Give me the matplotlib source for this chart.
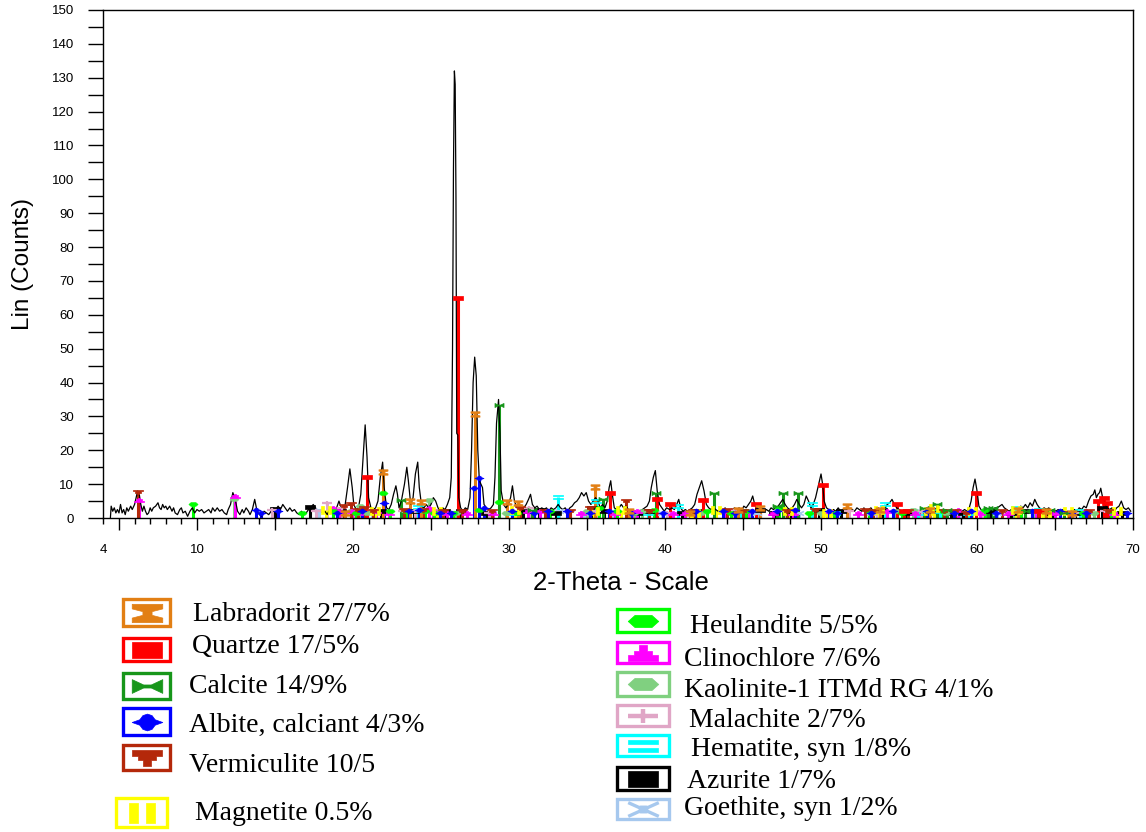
import matplotlib
matplotlib.use('Agg')
import matplotlib.pyplot as plt
from matplotlib.path import Path
from matplotlib.patches import Rectangle

# measured pattern (2-theta in degrees, counts) --------------------------
two_theta = [
    4.45, 4.5, 4.6, 4.7, 4.8, 4.9, 5.0, 5.1, 5.2, 5.3,
    5.4, 5.5, 5.6, 5.75, 5.85, 6.0, 6.1, 6.2, 6.3, 6.4,
    6.5, 6.6, 6.7, 6.8, 6.9, 7.0, 7.1, 7.2, 7.35, 7.5,
    7.6, 7.7, 7.8, 7.9, 8.0, 8.1, 8.25, 8.4, 8.5, 8.6,
    8.75, 8.9, 9.0, 9.1, 9.25, 9.4, 9.55, 9.7, 9.85, 10.0,
    10.15, 10.3, 10.45, 10.6, 10.75, 10.9, 11.0, 11.15, 11.3, 11.45,
    11.6, 11.75, 11.9, 12.0, 12.15, 12.3, 12.45, 12.6, 12.75, 12.9,
    13.0, 13.15, 13.3, 13.4, 13.55, 13.7, 13.85, 14.0, 14.15, 14.3,
    14.45, 14.6, 14.75, 14.9, 15.05, 15.2, 15.35, 15.5, 15.65, 15.8,
    15.95, 16.1, 16.25, 16.4, 16.55, 16.7, 16.85, 17.0, 17.15, 17.3,
    17.45, 17.6, 17.75, 17.9, 18.05, 18.2, 18.35, 18.5, 18.65, 18.8,
    18.95, 19.1, 19.25, 19.4, 19.5, 19.65, 19.8, 19.95, 20.05, 20.2,
    20.35, 20.5, 20.65, 20.78, 20.9, 21.0, 21.15, 21.3, 21.45, 21.6,
    21.75, 21.9, 22.0, 22.15, 22.3, 22.45, 22.6, 22.75, 22.85, 22.95,
    23.1, 23.3, 23.45, 23.55, 23.7, 23.85, 24.0, 24.15, 24.25, 24.4,
    24.55, 24.7, 24.85, 25.0, 25.15, 25.3, 25.45, 25.6, 25.75, 25.9,
    26.05, 26.2, 26.3, 26.38, 26.44, 26.5, 26.55, 26.6, 26.65, 26.72,
    26.78, 26.9, 27.05, 27.2, 27.35, 27.5, 27.6, 27.7, 27.8, 27.9,
    28.0, 28.1, 28.2, 28.3, 28.4, 28.55, 28.7, 28.85, 29.0, 29.1,
    29.2, 29.33, 29.42, 29.5, 29.65, 29.8, 29.95, 30.1, 30.22, 30.35,
    30.5, 30.65, 30.8, 30.95, 31.1, 31.25, 31.38, 31.5, 31.65, 31.8,
    31.95, 32.1, 32.25, 32.4, 32.55, 32.7, 32.85, 33.0, 33.15, 33.3,
    33.45, 33.6, 33.75, 33.9, 34.05, 34.2, 34.35, 34.5, 34.65, 34.8,
    34.95, 35.1, 35.25, 35.4, 35.55, 35.7, 35.85, 36.0, 36.15, 36.3,
    36.42, 36.52, 36.62, 36.75, 36.9, 37.05, 37.2, 37.35, 37.5, 37.65,
    37.8, 37.95, 38.1, 38.25, 38.4, 38.55, 38.7, 38.85, 39.0, 39.12,
    39.25, 39.38, 39.5, 39.65, 39.8, 39.95, 40.1, 40.3, 40.45, 40.6,
    40.75, 40.88, 41.0, 41.15, 41.3, 41.45, 41.6, 41.75, 41.9, 42.05,
    42.2, 42.35, 42.5, 42.65, 42.8, 42.95, 43.1, 43.25, 43.4, 43.55,
    43.7, 43.85, 44.0, 44.15, 44.3, 44.45, 44.6, 44.75, 44.9, 45.05,
    45.2, 45.35, 45.5, 45.62, 45.75, 45.9, 46.05, 46.2, 46.35, 46.5,
    46.65, 46.8, 46.95, 47.1, 47.25, 47.4, 47.55, 47.7, 47.85, 48.0,
    48.15, 48.3, 48.45, 48.6, 48.75, 48.9, 49.05, 49.2, 49.35, 49.5,
    49.65, 49.8, 49.9, 50.0, 50.1, 50.2, 50.35, 50.5, 50.65, 50.8,
    50.95, 51.1, 51.25, 51.4, 51.55, 51.7, 51.85, 52.0, 52.15, 52.3,
    52.45, 52.6, 52.75, 52.9, 53.05, 53.2, 53.35, 53.5, 53.65, 53.8,
    53.95, 54.1, 54.25, 54.4, 54.55, 54.7, 54.85, 55.0, 55.15, 55.3,
    55.45, 55.6, 55.75, 55.9, 56.05, 56.2, 56.35, 56.5, 56.65, 56.8,
    56.95, 57.1, 57.25, 57.4, 57.55, 57.7, 57.85, 58.0, 58.15, 58.3,
    58.45, 58.6, 58.75, 58.9, 59.05, 59.2, 59.35, 59.5, 59.62, 59.75,
    59.87, 60.0, 60.12, 60.25, 60.4, 60.55, 60.7, 60.85, 61.0, 61.15,
    61.3, 61.45, 61.6, 61.75, 61.9, 62.05, 62.2, 62.35, 62.5, 62.65,
    62.8, 62.95, 63.1, 63.25, 63.4, 63.55, 63.7, 63.85, 64.0, 64.15,
    64.3, 64.45, 64.6, 64.75, 64.9, 65.05, 65.2, 65.35, 65.5, 65.65,
    65.8, 65.95, 66.1, 66.25, 66.4, 66.55, 66.7, 66.85, 67.0, 67.15,
    67.3, 67.45, 67.55, 67.65, 67.75, 67.85, 67.93, 68.05, 68.2, 68.35,
    68.5, 68.65, 68.8, 68.95, 69.1, 69.25, 69.4, 69.55, 69.7, 69.85,
]
counts = [
    0, 3.5, 2, 3, 1.5, 2.5, 1.5, 4, 1.5, 2.5,
    1, 3, 2, 3.5, 2.5, 4, 6, 8, 7, 4,
    2, 3.5, 2, 1, 1.5, 3, 2, 3, 3.5, 4.5,
    3, 2.5, 4, 3, 3.5, 2.5, 3.5, 2, 3, 1.5,
    1, 2.5, 3, 1.5, 2, 0.5, 2, 3, 1.5, 2.5,
    2, 2.5, 1.5, 2, 2.5, 1.5, 3, 2, 3, 2,
    2.5, 1.5, 1, 2.5, 4, 7.5, 5.5, 2, 1, 2.5,
    1.5, 3, 2, 1, 2.5, 5.5, 2, 1, 0.5, 2,
    1.5, 1, 2, 3, 2.5, 3.5, 2.5, 4, 3, 2,
    3, 2, 2.5, 1.5, 1, 2, 1, 1.5, 2.5, 3,
    4, 3, 2, 2.5, 1.5, 2, 1, 2.5, 3, 2,
    3, 5, 3, 2, 4, 9, 14.5, 9, 4, 2.5,
    3, 7, 18, 27.5, 18, 6, 3, 2.5, 3, 5,
    12, 16.5, 9, 3, 2.5, 4, 7, 9.5, 7, 3,
    5, 10, 15, 11, 4, 6, 13, 16.5, 9, 3.5,
    3, 4, 3, 4, 6, 5, 3, 2, 3, 2.5,
    4, 6, 12, 50, 103, 132, 128, 95, 25, 24.5,
    6, 3, 2, 3, 2.5, 6, 20, 40, 47.5, 42,
    20, 11, 10, 9, 4, 3, 2.5, 3, 4, 12,
    28, 35, 25, 8, 4, 3, 4, 6, 9.5, 5,
    3, 3.5, 2.5, 3, 4, 5.5, 7, 4, 3, 3.5,
    2.5, 3, 2.5, 3, 2, 3, 2.5, 3, 4, 3,
    2.5, 3, 2, 3, 3.5, 4.5, 5, 6, 7.5, 6.5,
    7.5, 5, 4, 5, 6, 5, 3, 4, 3, 5,
    9, 11, 7, 3, 2.5, 3, 4, 3, 3.5, 2.5,
    2, 1.5, 2, 1.5, 2, 2.5, 3, 3.5, 5, 9,
    12, 14, 8, 4, 3, 2, 3, 2.5, 3, 2.5,
    4, 5.5, 3, 2, 2.5, 2, 2.5, 3, 4, 7,
    9, 11, 8, 4, 3, 2.5, 3, 2.5, 2, 2.5,
    2, 3, 2, 2.5, 2, 3, 2.5, 3, 2, 3.5,
    3, 4, 5, 6.5, 4, 3, 2.5, 3, 2, 2.5,
    2, 3, 2.5, 3, 3.5, 4.5, 5.5, 4, 3, 2.5,
    3, 4, 5.5, 4, 3, 4, 6.5, 5, 3, 4,
    6, 9, 11, 13, 10, 5, 3, 2.5, 2, 2.5,
    2, 3, 2, 2.5, 2, 3, 2, 2.5, 2, 3,
    2.5, 2, 3, 2, 2.5, 3, 2, 2.5, 3, 2.5,
    3.5, 3, 4, 4.5, 5.5, 4, 3, 2.5, 2, 1.5,
    1, 1.5, 1, 2, 1.5, 2, 1.5, 2, 2.5, 2,
    2.5, 2, 3, 2.5, 2, 2.5, 2, 2.5, 2, 1.5,
    2, 1.5, 2, 2.5, 2, 2.5, 2, 3, 5, 9,
    11.5, 8, 3.5, 2.5, 2, 3, 2.5, 3, 2.5, 3,
    3, 3.5, 4, 3, 2.5, 2, 2.5, 2, 3, 2.5,
    3.5, 3, 4, 3, 4.5, 3.5, 5.5, 4, 3, 2.5,
    3, 2.5, 3, 2, 2.5, 2, 2.5, 2, 2.5, 1.5,
    2, 1.5, 2, 2.5, 2, 3, 2.5, 3.5, 3, 5,
    6.5, 7, 8.3, 6, 7, 7.5, 8.8, 6, 4, 3,
    2.5, 3, 2, 3, 3.5, 5, 3, 2.5, 3, 2,
]

# phase reference lines (position, height) ------------------------------
labradorite_pos = [19.5, 21.95, 23.65, 24.35, 27.85, 29.85, 30.6, 35.5, 37.7,
                   41.6, 44.7, 46.1, 51.65, 53.8, 57.0, 62.6, 64.4, 66.1]
labradorite_int = [1.5, 13.5, 5, 4.8, 30.7, 4.8, 4.3, 9.2, 2,
                   1.5, 2.5, 3, 3.5, 2.5, 2.5, 2.5, 2, 1.5]

quartz_pos = [20.9, 26.72, 36.5, 39.5, 40.3, 42.45, 45.8, 50.15, 54.9, 55.3,
              59.95, 64.0, 67.75, 68.15, 68.3]
quartz_int = [12, 65, 7.5, 5.5, 4.2, 5.2, 4, 9.7, 4, 2,
              7.3, 2, 5, 6, 4.5]

calcite_pos = [23.07, 29.38, 31.45, 36.0, 39.45, 43.15, 47.15, 47.55, 48.55,
               56.6, 57.45, 58.1, 60.7, 61.05, 63.1, 64.7, 65.6]
calcite_int = [5.3, 33.5, 2.5, 5.6, 7.4, 7.4, 3.5, 7.4, 7.3,
               3, 4, 2.5, 3, 3, 2, 2.5, 1.5]

albite_pos = [13.8, 14.1, 15.2, 19.0, 20.6, 22.0, 23.6, 24.2, 25.6, 26.3,
              27.75, 28.05, 28.4, 30.2, 31.6, 32.5, 33.7, 35.2, 36.4, 37.8,
              39.9, 42.0, 43.7, 44.5, 45.6, 47.2, 48.3, 50.5, 51.0, 53.2,
              54.6, 56.8, 58.5, 59.6, 61.2, 63.5, 65.3, 66.0, 67.0, 69.6]
albite_int = [2.5, 1.5, 2, 1.5, 2, 4.3, 2, 2.5, 1.5, 1.5,
              8.8, 11.9, 3, 2, 1.5, 2, 2, 1.5, 2, 1.5,
              1.5, 2, 2, 1.5, 2, 2, 2.5, 2, 1.5, 1.5,
              2, 2, 1.5, 2, 1.5, 2, 2, 1.5, 1.5, 1.5]

vermiculite_pos = [6.2, 19.4, 19.85, 20.3, 20.7, 21.3, 23.3, 24.5, 25.8, 27.0,
                   28.9, 30.7, 32.3, 33.9, 35.2, 37.5, 39.0, 41.8, 44.0, 45.0,
                   47.8, 49.6, 52.8, 53.3, 55.6, 57.9, 58.6, 59.3, 61.6, 63.9,
                   65.9, 67.2, 68.4]
vermiculite_int = [7.8, 3.5, 4, 2.5, 3, 2, 2.5, 2.5, 2, 2,
                   2, 3, 2, 2, 3, 5, 2, 2, 2.5, 2,
                   2, 2.5, 2.5, 2, 2, 2, 2, 1.5, 2, 2,
                   1.5, 2, 2]

magnetite_pos = [18.3, 21.4, 25.4, 30.4, 35.45, 37.2, 41.9, 43.3, 47.9, 50.4,
                 53.7, 56.9, 57.25, 59.7, 62.5, 64.4, 65.8, 69.0]
magnetite_int = [2.5, 2, 2, 2.3, 2, 2.5, 1.5, 2.5, 2, 1.5,
                 2.5, 2, 3, 2, 2.5, 1.5, 2, 2]

heulandite_pos = [9.75, 16.75, 18.7, 20.2, 21.9, 22.4, 23.4, 24.6, 25.2, 26.4,
                  28.1, 29.35, 30.5, 32.6, 35.8, 36.9, 39.3, 42.7, 44.2, 45.2,
                  47.3, 49.2, 50.8, 53.1, 55.2, 57.8, 60.5, 62.8, 64.2, 66.8,
                  68.6]
heulandite_int = [4.2, 1.5, 2, 1.5, 7.3, 2, 2, 2, 1.5, 1.5,
                  2.5, 4.8, 1.5, 2, 3, 2, 2.5, 2, 1.5, 2,
                  3, 1.5, 1.5, 2, 1.5, 2, 2.5, 2, 2, 1.5,
                  2]

clinochlore_pos = [6.3, 12.45, 18.75, 19.1, 19.95, 20.3, 21.5, 22.3, 24.9, 25.1,
                   26.0, 27.3, 29.0, 31.2, 32.0, 34.6, 36.8, 37.9, 38.2, 40.5,
                   41.3, 43.9, 45.3, 46.9, 48.2, 50.6, 52.4, 54.2, 56.0, 58.8,
                   60.2, 62.0, 63.8, 65.0, 67.0, 68.8]
clinochlore_int = [5.4, 6.6, 3, 2, 2, 1.5, 2, 1.5, 3, 2.5,
                   1.5, 1.5, 1.5, 2, 2, 1.5, 1.5, 2, 2, 1.5,
                   1.5, 2, 2, 1.5, 1.5, 2, 1.5, 2, 1.5, 2.5,
                   1.5, 1.5, 2, 1.5, 2, 1.5]

kaolinite_pos = [12.4, 19.9, 20.45, 20.9, 21.3, 24.9, 25.5, 26.6, 29.8, 35.0,
                 38.0, 38.5, 42.3, 45.4, 50.0, 54.8, 55.9, 58.0, 62.4, 63.6,
                 67.5]
kaolinite_int = [5.6, 2, 3.4, 1.5, 2, 5.2, 2, 1.5, 1.5, 2,
                 1.5, 2, 1.5, 2, 1.5, 2, 2.5, 1.5, 2, 2,
                 1.5]

malachite_pos = [14.8, 17.6, 18.35, 19.3, 20.1, 23.2, 24.0, 28.7, 31.3, 33.9,
                 35.6, 40.1, 44.3, 47.6, 51.8, 53.6, 56.4, 60.4, 62.0, 64.5,
                 66.2, 68.2]
malachite_int = [2.5, 2, 4.5, 3, 2, 2, 2, 1.5, 3, 2,
                 2, 1.5, 2.5, 2, 2, 1.5, 2, 2, 1.5, 2,
                 1.5, 2]

hematite_pos = [24.15, 24.3, 30.2, 33.15, 35.6, 38.9, 40.85, 44.9, 49.4, 50.9,
                54.1, 56.2, 57.6, 59.4, 62.5, 64.0, 66.6]
hematite_int = [3.3, 2.5, 1.5, 6.1, 5, 1.5, 3.5, 2, 4.1, 1.5,
                4.1, 1.5, 2, 1.5, 3, 2.5, 2]

azurite_pos = [15.0, 17.25, 19.2, 21.8, 23.9, 24.6, 25.9, 26.9, 28.5, 30.9,
               31.9, 33.0, 35.3, 36.1, 38.3, 39.0, 41.1, 42.0, 44.6, 46.1,
               47.0, 48.0, 49.9, 51.3, 53.9, 55.5, 57.0, 58.3, 59.1, 60.9,
               62.2, 63.1, 64.8, 66.3, 68.0, 69.3]
azurite_int = [2.8, 3.2, 2, 2, 2, 2.5, 2, 2, 1.5, 2,
               2.5, 1.5, 3, 2, 1.5, 2, 1.5, 2, 2, 2.5,
               1.5, 2, 2.5, 2, 2.5, 1.5, 2, 1.5, 1.5, 2,
               1.5, 2, 1.5, 1.5, 3, 1.5]

goethite_pos = [17.8, 21.2, 26.3, 28.9, 33.2, 34.8, 36.6, 39.8, 41.2, 45.9,
                48.6, 53.2, 56.4, 58.4, 59.0, 61.3, 63.5, 66.7, 68.9]
goethite_int = [2.5, 2, 1.5, 1.5, 2, 1.5, 2, 1.5, 1.5, 1.5,
                1.5, 1.5, 2, 1.5, 1.5, 1.5, 2, 2, 1.5]

phase_labels = ['Labradorit 27/7%', 'Quartze 17/5%', 'Calcite 14/9%',
                'Albite, calciant 4/3%', 'Vermiculite 10/5', 'Magnetite 0.5%',
                'Heulandite 5/5%', 'Clinochlore 7/6%', 'Kaolinite-1 ITMd RG 4/1%',
                'Malachite 2/7%', 'Hematite, syn 1/8%', 'Azurite 1/7%',
                'Goethite, syn 1/2%']

# marker shapes ----------------------------------------------------------
M, L = Path.MOVETO, Path.LINETO


def poly(pts):
    return Path(pts + [pts[0]], [M] + [L] * (len(pts) - 1) + [Path.CLOSEPOLY])


def rect(x0, x1, y0, y1):
    return poly([(x0, y0), (x1, y0), (x1, y1), (x0, y1)])


m_hourglass = poly([(-1, 0.6), (1, 0.6), (1, 0.3), (0.3, 0.12), (0.3, -0.12),
                    (1, -0.3), (1, -0.6), (-1, -0.6), (-1, -0.3), (-0.3, -0.12),
                    (-0.3, 0.12), (-1, 0.3)])
m_wide_rect = rect(-1, 1, -0.5, 0.5)
m_bowtie = poly([(-1, 0.45), (-0.25, 0.1), (0.25, 0.1), (1, 0.45), (1, -0.45),
                 (0.25, -0.1), (-0.25, -0.1), (-1, -0.45)])
m_diamond = poly([(-1, 0), (-0.5, 0.18), (-0.3, 0.45), (0, 0.55), (0.3, 0.45),
                  (0.5, 0.18), (1, 0), (0.5, -0.18), (0.3, -0.45), (0, -0.55),
                  (-0.3, -0.45), (-0.5, -0.18)])
m_step_down = poly([(-1, 0.5), (1, 0.5), (1, 0.15), (0.6, 0.15), (0.6, -0.15),
                    (0.25, -0.15), (0.25, -0.5), (-0.25, -0.5), (-0.25, -0.15),
                    (-0.6, -0.15), (-0.6, 0.15), (-1, 0.15)])
m_step_up = poly([(-1, -0.5), (1, -0.5), (1, -0.15), (0.6, -0.15), (0.6, 0.15),
                  (0.25, 0.15), (0.25, 0.5), (-0.25, 0.5), (-0.25, 0.15),
                  (-0.6, 0.15), (-0.6, -0.15), (-1, -0.15)])
m_two_vbars = Path.make_compound_path(rect(-0.6, -0.2, -0.5, 0.5),
                                      rect(0.2, 0.6, -0.5, 0.5))
m_hexagon = poly([(-1, 0), (-0.55, 0.4), (0.55, 0.4), (1, 0), (0.55, -0.4),
                  (-0.55, -0.4)])
m_plus = Path([(-1, 0), (1, 0), (0, -0.45), (0, 0.45)], [M, L, M, L])
m_two_hbars = Path.make_compound_path(rect(-1, 1, 0.12, 0.42),
                                      rect(-1, 1, -0.42, -0.12))
m_cross = Path.make_compound_path(
    Path([(-1, -0.45), (1, 0.45), (-1, 0.45), (1, -0.45)], [M, L, M, L]),
    rect(-0.2, 0.2, -0.15, 0.15))

# position data, heights, colour, marker, marker edge width
phases = [
    (labradorite_pos, labradorite_int, '#E27F14', m_hourglass, 0.5),
    (quartz_pos, quartz_int, '#FF0000', m_wide_rect, 0.5),
    (calcite_pos, calcite_int, '#17961A', m_bowtie, 0.5),
    (albite_pos, albite_int, '#0000FF', m_diamond, 0.5),
    (vermiculite_pos, vermiculite_int, '#B4280A', m_step_down, 0.5),
    (magnetite_pos, magnetite_int, '#FFFF00', m_two_vbars, 0.5),
    (heulandite_pos, heulandite_int, '#00FF00', m_hexagon, 0.5),
    (clinochlore_pos, clinochlore_int, '#FF00FF', m_step_up, 0.5),
    (kaolinite_pos, kaolinite_int, '#80D080', m_hexagon, 0.5),
    (malachite_pos, malachite_int, '#E0A6C6', m_plus, 1.6),
    (hematite_pos, hematite_int, '#00FFFF', m_two_hbars, 0.5),
    (azurite_pos, azurite_int, '#000000', m_wide_rect, 0.5),
    (goethite_pos, goethite_int, '#A6C8EE', m_cross, 1.2),
]

# figure -----------------------------------------------------------------
fig = plt.figure(figsize=(11.46, 8.32), dpi=100)
ax = fig.add_axes([0.0902, 0.3774, 0.8985, 0.6106])

ax.plot(two_theta, counts, color='black', lw=0.9, zorder=3)

for pos, inten, col, mk, mew in reversed(phases):
    ax.vlines(pos, 0, inten, colors=col, lw=2.2, zorder=2)
    ax.plot(pos, inten, linestyle='none', marker=mk, ms=6.5, color=col,
            mec=col, mew=mew, zorder=4, clip_on=False)

ax.set_xlim(4, 70)
ax.set_ylim(0, 150)

tick_font = {'family': 'Liberation Sans', 'size': 9.5}
major_x = list(range(5, 71, 5))
ax.set_xticks(major_x, labels=[str(v) if v % 10 == 0 else '' for v in major_x],
              **tick_font)
minor_x = [v for v in range(4, 71) if v % 5 != 0]
ax.set_xticks(minor_x, labels=['4' if v == 4 else '' for v in minor_x],
              minor=True, **tick_font)
ax.tick_params(axis='x', which='major', direction='out', length=8.5, pad=10,
               width=1)
ax.tick_params(axis='x', which='minor', direction='out', length=4, pad=14.5,
               width=1)

ax.set_yticks(range(0, 151, 10), labels=[str(v) for v in range(0, 151, 10)],
              **tick_font)
ax.set_yticks(range(5, 151, 10), minor=True)
ax.tick_params(axis='y', which='both', direction='out', length=10.5,
               pad=10.5, width=1)

for s in ax.spines.values():
    s.set_linewidth(1.0)

ax.set_xlabel('2-Theta - Scale', fontsize=18.5, family='Liberation Sans')
ax.xaxis.label.set_va('center')
ax.xaxis.set_label_coords(0.503, -0.128)
ax.set_ylabel('Lin (Counts)', fontsize=17.5, family='Liberation Sans')
ax.yaxis.label.set_va('center')
ax.yaxis.set_label_coords(-0.078, 0.5)

# legend drawn in pixel coordinates -------------------------------------
lg = fig.add_axes([0, 0, 1, 1])
lg.set_xlim(0, 1146)
lg.set_ylim(832, 0)
lg.axis('off')

boxes = [(121, 597, 51, 31), (121, 636, 51, 27), (121, 671, 51, 30),
         (121, 706, 51, 31), (121, 743, 51, 29), (114, 796, 55, 33),
         (615, 607, 56, 27), (615, 640, 56, 25), (615, 670, 56, 28),
         (615, 703, 56, 25), (615, 733, 56, 25), (615, 765, 56, 27),
         (615, 797, 56, 24)]
text_at = [(193, 621), (192, 653), (189, 693), (189, 732), (189, 772),
           (195, 820), (690, 633), (684, 666), (684, 697), (689, 727),
           (691, 756), (687, 788), (684, 815)]

for (x0, y0, w, h), (tx, ty), lab, ph in zip(boxes, text_at, phase_labels, phases):
    col, mk, mew = ph[2], ph[3], ph[4]
    lg.add_patch(Rectangle((x0 + 1.7, y0 + 1.7), w - 3.4, h - 3.4,
                           facecolor='white', edgecolor=col, lw=2.4))
    size = 18 if mk is m_two_vbars else 22
    lg.plot([x0 + w / 2], [y0 + h / 2], marker=mk, ms=size, color=col,
            mec=col, mew=mew * 2 if mew > 1 else 0.5, linestyle='none')
    lg.text(tx, ty, lab, fontsize=20, family='Liberation Serif',
            ha='left', va='baseline')

fig.savefig('out.png', dpi=100)
